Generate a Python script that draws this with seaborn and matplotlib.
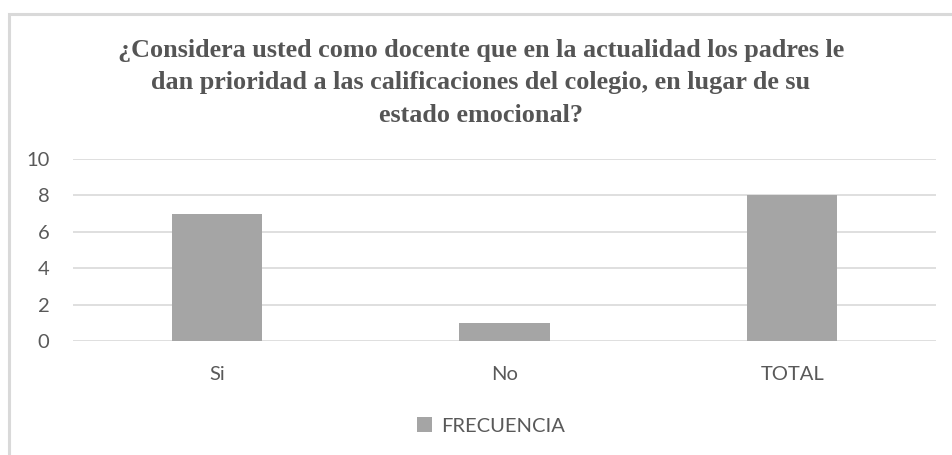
import matplotlib
matplotlib.use("Agg")
import matplotlib.pyplot as plt
import matplotlib.patches as mpatches
import seaborn as sns
import pandas as pd

categories = ["Si", "No", "TOTAL"]
frecuencia = [7, 1, 8]
series_name = "FRECUENCIA"
title = ("¿Considera usted como docente que en la actualidad los padres le\n"
         "dan prioridad a las calificaciones del colegio, en lugar de su\n"
         "estado emocional?")

sns.set_theme(style="white")
plt.rcParams["font.family"] = ["Lato", "DejaVu Sans"]

df = pd.DataFrame({"categoria": categories, "valor": frecuencia})

W, H = 952, 455
fig = plt.figure(figsize=(W / 100, H / 100), dpi=100)

# chart frame (top and left edges visible)
frame = mpatches.Rectangle((8.5 / W, -0.1), 1.1, (H - 14) / H + 0.1,
                           transform=fig.transFigure, fill=False,
                           edgecolor="#d9d9d9", linewidth=2.2)
fig.patches.append(frame)

ax = fig.add_axes([73 / W, 1 - 341 / H, (936 - 73) / W, (341 - 159) / H])

sns.barplot(data=df, x="categoria", y="valor", color="#a5a5a5",
            saturation=1, width=0.313, ax=ax, label=series_name,
            edgecolor="none")

ax.set_ylim(0, 10)
ax.set_xlim(-0.5, 2.5)
ax.set_yticks([0, 2, 4, 6, 8, 10])
ax.yaxis.grid(True, color="#d9d9d9", linewidth=1.2)
ax.set_axisbelow(True)
for s in ax.spines.values():
    s.set_visible(False)
ax.set_xlabel("")
ax.set_ylabel("")
ax.tick_params(axis="both", length=0, labelsize=14.5, labelcolor="#595959")
ax.tick_params(axis="y", pad=17)
ax.tick_params(axis="x", pad=18)

fig.text(481 / W, 1 - 83 / H, title, ha="center", va="center",
         fontsize=18.8, fontweight="bold", color="#555555",
         family=["Liberation Serif", "DejaVu Serif"], linespacing=1.52)

leg = ax.legend(loc="center", bbox_to_anchor=(491 / W, 1 - 426 / H),
                bbox_transform=fig.transFigure, frameon=False,
                fontsize=14.5, handlelength=0.75, handleheight=0.75,
                handletextpad=0.45, labelcolor="#595959")

fig.savefig("out.png", dpi=100, facecolor="white")
